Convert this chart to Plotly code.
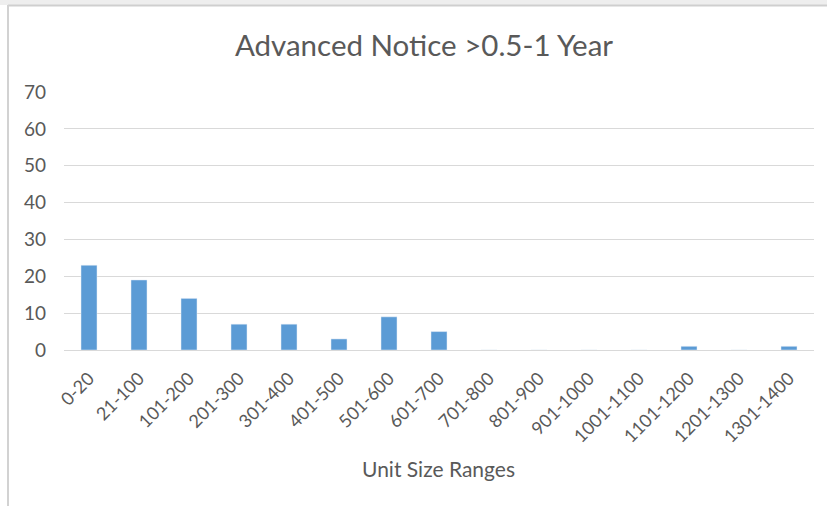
import plotly.graph_objects as go

categories = ["0-20", "21-100", "101-200", "201-300", "301-400", "401-500", "501-600",
              "601-700", "701-800", "801-900", "901-1000", "1001-1100", "1101-1200",
              "1201-1300", "1301-1400"]
values = [23, 19, 14, 7, 7, 3, 9, 5, 0, 0, 0, 0, 1, 0, 1]
y_ticks = [0, 10, 20, 30, 40, 50, 60, 70]

FONT = "Lato, 'Open Sans', sans-serif"
GREY = "#595959"
W, H = 827, 506
L, R, T, B = 64, 13, 92, 156
PLOT_W, PLOT_H = W - L - R, H - T - B


def px(x):
    return (x - L) / PLOT_W


def py(y):
    return (H - B - y) / PLOT_H


fig = go.Figure(go.Bar(x=categories, y=values, marker_color="#5b9bd5", width=0.32))

fig.update_layout(
    width=W, height=H,
    margin=dict(l=L, r=R, t=T, b=B),
    paper_bgcolor="white", plot_bgcolor="white",
    title=dict(text="Advanced Notice >0.5-1 Year", x=px(424), xref="paper",
               xanchor="center", y=1 - 46 / H, yanchor="middle",
               font=dict(family=FONT, size=29.5, color=GREY)),
    showlegend=False,
    xaxis=dict(tickangle=-45, tickfont=dict(family=FONT, size=18, color=GREY),
               showgrid=False, showline=True, linecolor="#d9d9d9", linewidth=1,
               ticks="", ticklabelstandoff=10, automargin=False),
    yaxis=dict(range=[0, 70], tickvals=y_ticks, showgrid=True, gridcolor="#d9d9d9",
               gridwidth=1, zeroline=False, showline=False, ticks="",
               ticklabelstandoff=17, automargin=False,
               tickfont=dict(family=FONT, size=19, color=GREY)),
    annotations=[
        dict(text="Unit Size Ranges", xref="paper", yref="paper", x=px(438.5),
             y=py(468), xanchor="center", yanchor="middle", showarrow=False,
             font=dict(family=FONT, size=21, color=GREY)),
    ],
    shapes=[
        dict(type="rect", xref="paper", yref="paper", x0=px(0), x1=px(W), y0=py(0), y1=py(5),
             fillcolor="#eeeeee", line=dict(width=0), layer="below"),
        dict(type="line", xref="paper", yref="paper", x0=px(8), x1=px(W),
             y0=py(5.5), y1=py(5.5), line=dict(color="#cfcfcf", width=2)),
        dict(type="line", xref="paper", yref="paper", x0=px(8), x1=px(8),
             y0=py(5), y1=py(H), line=dict(color="#d2d2d2", width=2)),
    ],
)

fig.write_html("out.html", config={"displayModeBar": False},
               post_script="document.body.style.margin='0';")
